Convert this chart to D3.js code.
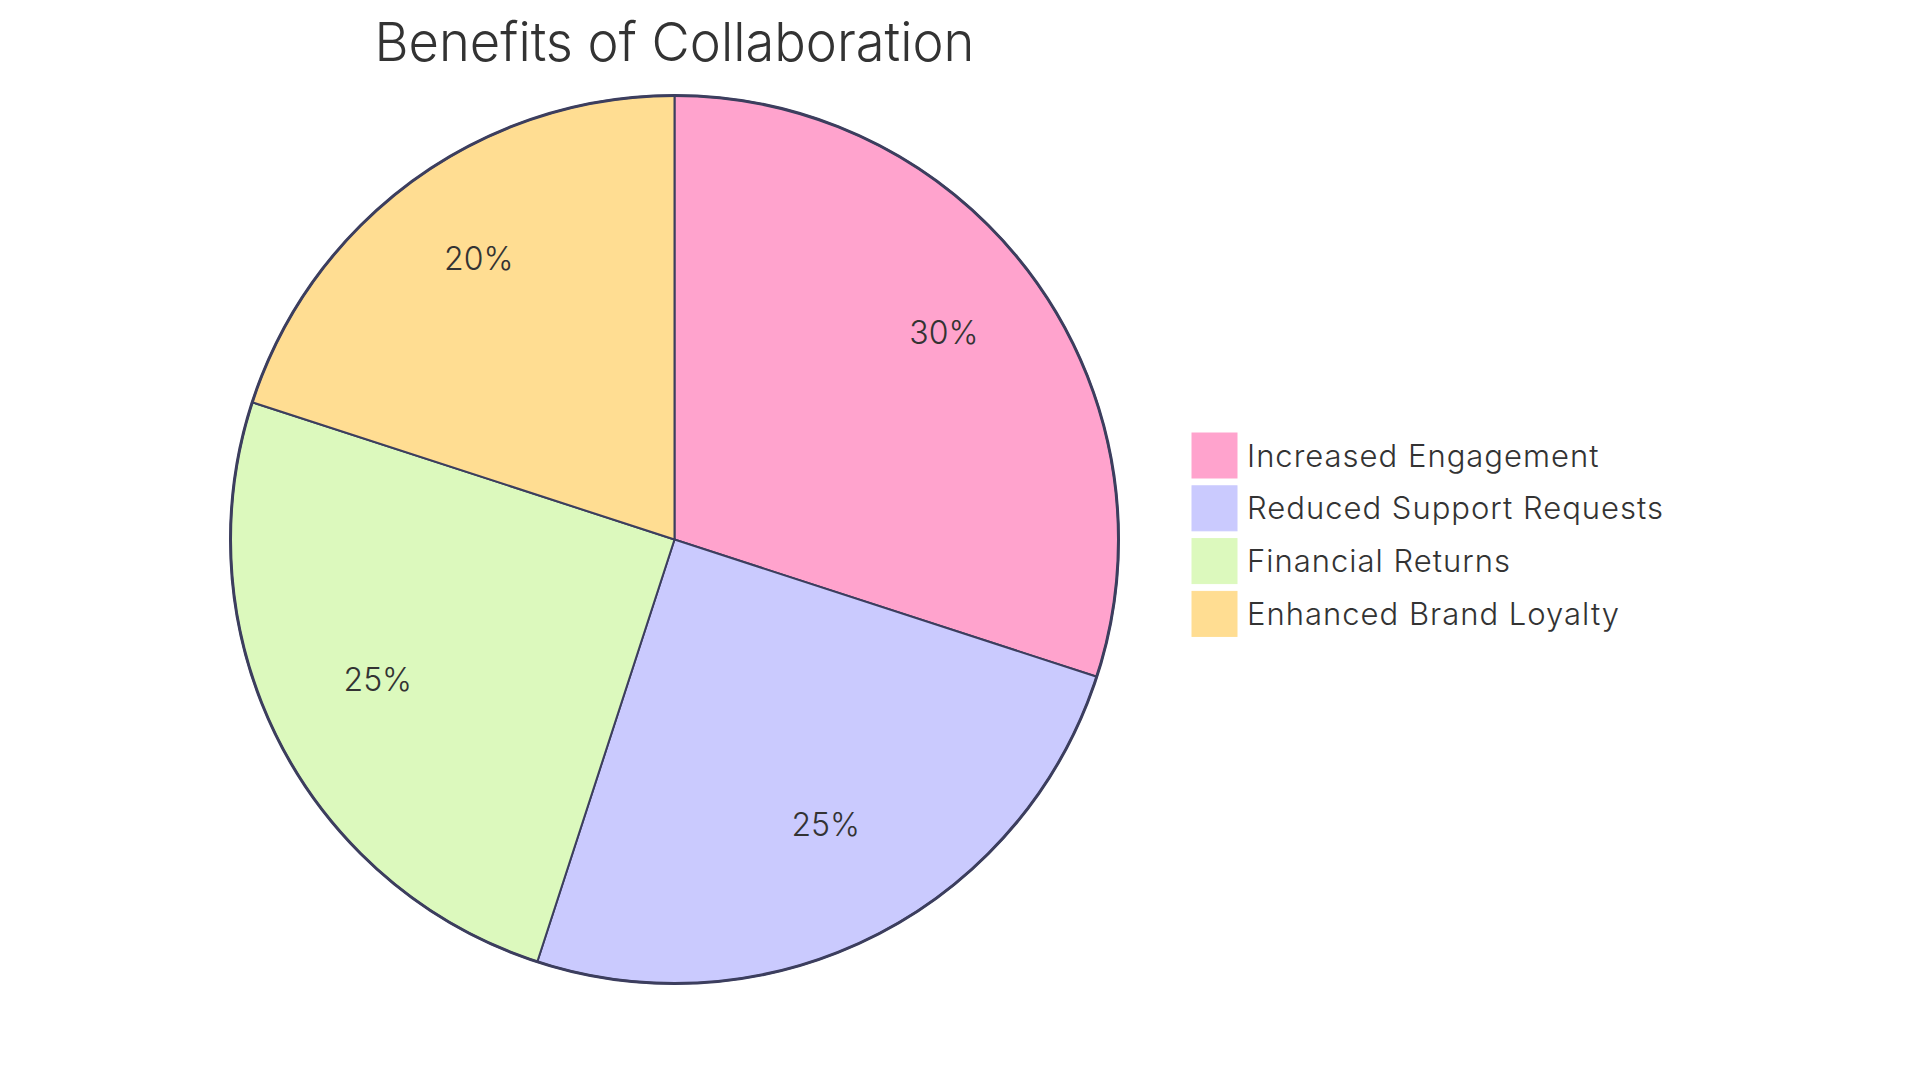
<!DOCTYPE html>
<html>
<head>
<meta charset="utf-8">
<script src="https://cdn.jsdelivr.net/npm/d3@7"></script>
<style>
  html, body { margin: 0; padding: 0; background: #ffffff; }
  svg { display: block; }
  text { font-family: Inter, "Noto Sans", sans-serif; fill: #333333; font-weight: 300; }
</style>
</head>
<body>
<svg id="chart" width="1920" height="1083"></svg>
<script>
const title = "Benefits of Collaboration";
const categories = ["Increased Engagement", "Reduced Support Requests", "Financial Returns", "Enhanced Brand Loyalty"];
const values = [30, 25, 25, 20];
const colors = ["#FFA3CD", "#CACAFE", "#DCF9BD", "#FFDD92"];

const svg = d3.select("#chart");
const cx = 674.5, cy = 539.5, R = 444;
const strokeColor = "#3c3e5e";

const data = categories.map((c, i) => ({ name: c, value: values[i], color: colors[i] }));
const total = d3.sum(values);

const pie = d3.pie().value(d => d.value).sort(null);
const arcs = pie(data);
const arc = d3.arc().innerRadius(0).outerRadius(R);
const labelArc = d3.arc().innerRadius(R * 0.75).outerRadius(R * 0.75);

const g = svg.append("g").attr("transform", `translate(${cx},${cy})`);

g.selectAll("path.slice")
  .data(arcs)
  .join("path")
  .attr("class", "slice")
  .attr("d", arc)
  .attr("fill", d => d.data.color)
  .attr("stroke", strokeColor)
  .attr("stroke-width", 2);

g.append("circle")
  .attr("r", R)
  .attr("fill", "none")
  .attr("stroke", strokeColor)
  .attr("stroke-width", 3);

g.selectAll("text.pct")
  .data(arcs)
  .join("text")
  .attr("class", "pct")
  .attr("transform", d => `translate(${labelArc.centroid(d)})`)
  .attr("text-anchor", "middle")
  .attr("font-size", 32)
  .text(d => Math.round(d.data.value / total * 100) + "%");

// Title
svg.append("text")
  .attr("x", cx)
  .attr("y", 61)
  .attr("text-anchor", "middle")
  .attr("font-size", 54)
  .attr("textLength", 600)
  .attr("lengthAdjust", "spacingAndGlyphs")
  .text(title);

// Legend
const legend = svg.append("g").attr("transform", "translate(1192,433)");
const item = legend.selectAll("g.item")
  .data(data)
  .join("g")
  .attr("class", "item")
  .attr("transform", (d, i) => `translate(0,${i * 52.8})`);
item.append("rect")
  .attr("width", 45).attr("height", 45)
  .attr("fill", d => d.color)
  .attr("stroke", d => d.color);
item.append("text")
  .attr("x", 55)
  .attr("y", 33.5)
  .attr("font-size", 31)
  .attr("letter-spacing", 1)
  .text(d => d.name);
</script>
</body>
</html>
